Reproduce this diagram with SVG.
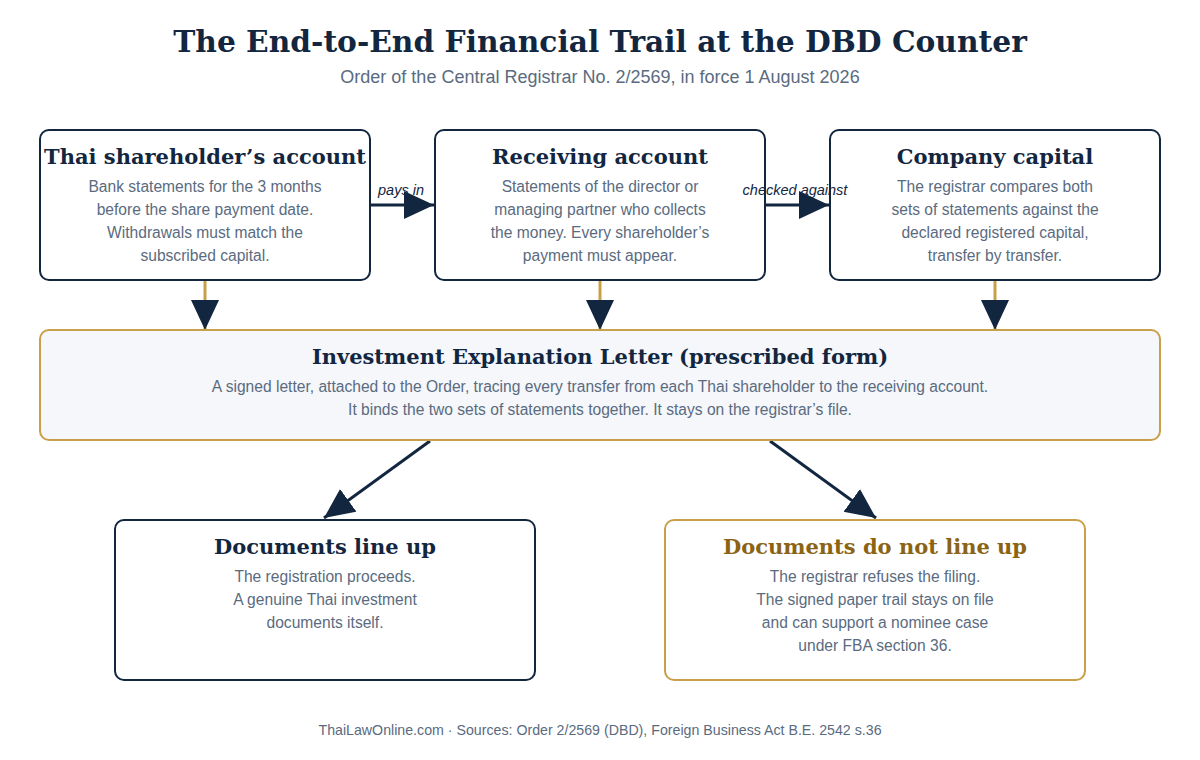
<svg xmlns="http://www.w3.org/2000/svg" width="1200" height="760" viewBox="0 0 1200 760">
<style>
.t{font-family:"DejaVu Serif",serif;font-weight:bold;fill:#12263f;text-anchor:middle}
.b{font-family:"Liberation Sans",Arial,sans-serif;font-size:15.6px;fill:#5a6b80;text-anchor:middle}
.l{font-family:"Liberation Sans",Arial,sans-serif;font-size:14.5px;font-style:italic;fill:#12263f;text-anchor:middle}
.n{fill:#fff;stroke:#12263f;stroke-width:2}
.g{stroke:#c9a04a;stroke-width:2}
</style>
<defs>
<marker id="a" markerUnits="userSpaceOnUse" markerWidth="32" markerHeight="30" refX="30" refY="14" orient="auto"><path d="M0,0 L30,14 L0,28 Z" fill="#12263f"/></marker>
</defs>
<rect width="1200" height="760" fill="#fff"/>
<text x="600" y="52" class="t" font-size="29.7">The End-to-End Financial Trail at the DBD Counter</text>
<text x="600" y="83" class="b" style="font-size:18px">Order of the Central Registrar No. 2/2569, in force 1 August 2026</text>
<g id="connectors" fill="none">
<line x1="370" y1="205" x2="434" y2="205" stroke="#12263f" stroke-width="3" marker-end="url(#a)"/>
<line x1="765" y1="205" x2="829" y2="205" stroke="#12263f" stroke-width="3" marker-end="url(#a)"/>
<line x1="205" y1="280" x2="205" y2="330" stroke="#c9a04a" stroke-width="3" marker-end="url(#a)"/>
<line x1="600" y1="280" x2="600" y2="330" stroke="#c9a04a" stroke-width="3" marker-end="url(#a)"/>
<line x1="995" y1="280" x2="995" y2="330" stroke="#c9a04a" stroke-width="3" marker-end="url(#a)"/>
<line x1="430" y1="441" x2="324" y2="518" stroke="#12263f" stroke-width="3" marker-end="url(#a)"/>
<line x1="770" y1="441" x2="876" y2="518" stroke="#12263f" stroke-width="3" marker-end="url(#a)"/>
</g>
<g id="n1"><rect x="40" y="130" width="330" height="150" rx="9" class="n"/>
<text x="205" y="164" class="t" font-size="21">Thai shareholder’s account</text>
<text class="b"><tspan x="205" y="192">Bank statements for the 3 months</tspan><tspan x="205" y="215">before the share payment date.</tspan><tspan x="205" y="238">Withdrawals must match the</tspan><tspan x="205" y="261">subscribed capital.</tspan></text></g>
<g id="n2"><rect x="435" y="130" width="330" height="150" rx="9" class="n"/>
<text x="600" y="164" class="t" font-size="21">Receiving account</text>
<text class="b"><tspan x="600" y="192">Statements of the director or</tspan><tspan x="600" y="215">managing partner who collects</tspan><tspan x="600" y="238">the money. Every shareholder’s</tspan><tspan x="600" y="261">payment must appear.</tspan></text></g>
<g id="n3"><rect x="830" y="130" width="330" height="150" rx="9" class="n"/>
<text x="995" y="164" class="t" font-size="21">Company capital</text>
<text class="b"><tspan x="995" y="192">The registrar compares both</tspan><tspan x="995" y="215">sets of statements against the</tspan><tspan x="995" y="238">declared registered capital,</tspan><tspan x="995" y="261">transfer by transfer.</tspan></text></g>
<g id="n4"><rect x="40" y="330" width="1120" height="110" rx="9" fill="#f5f7fb" class="g"/>
<text x="600" y="364" class="t" font-size="21">Investment Explanation Letter (prescribed form)</text>
<text class="b"><tspan x="600" y="392">A signed letter, attached to the Order, tracing every transfer from each Thai shareholder to the receiving account.</tspan><tspan x="600" y="415">It binds the two sets of statements together. It stays on the registrar’s file.</tspan></text></g>
<g id="n5"><rect x="115" y="520" width="420" height="160" rx="9" class="n"/>
<text x="325" y="554" class="t" font-size="21">Documents line up</text>
<text class="b"><tspan x="325" y="582">The registration proceeds.</tspan><tspan x="325" y="605">A genuine Thai investment</tspan><tspan x="325" y="628">documents itself.</tspan></text></g>
<g id="n6"><rect x="665" y="520" width="420" height="160" rx="9" fill="#fff" class="g"/>
<text x="875" y="554" class="t" font-size="21" style="fill:#8a6414">Documents do not line up</text>
<text class="b"><tspan x="875" y="582">The registrar refuses the filing.</tspan><tspan x="875" y="605">The signed paper trail stays on file</tspan><tspan x="875" y="628">and can support a nominee case</tspan><tspan x="875" y="651">under FBA section 36.</tspan></text></g>
<g id="labels">
<text x="401" y="195" class="l">pays in</text>
<text x="795" y="195" class="l">checked against</text>
</g>
<text x="600" y="735" class="b" style="font-size:14.2px">ThaiLawOnline.com · Sources: Order 2/2569 (DBD), Foreign Business Act B.E. 2542 s.36</text>
</svg>
